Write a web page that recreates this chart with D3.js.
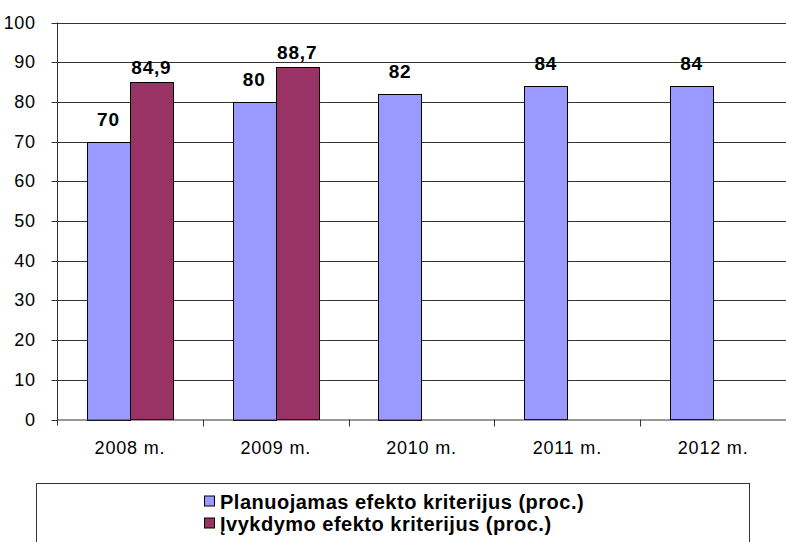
<!DOCTYPE html>
<html>
<head>
<meta charset="utf-8">
<script src="https://cdn.jsdelivr.net/npm/d3@7"></script>
<style>
  body { margin: 0; background: #fff; }
  text { font-family: "Liberation Sans", Arial, sans-serif; }
</style>
</head>
<body>
<div id="chart"></div>
<script>
// chart data
var categories = ["2008 m.", "2009 m.", "2010 m.", "2011 m.", "2012 m."];
var planned = [70, 80, 82, 84, 84];
var actual = [84.9, 88.7, null, null, null];
var seriesNames = ["Planuojamas efekto kriterijus (proc.)", "Įvykdymo efekto kriterijus (proc.)"];
var seriesColors = ["#9999ff", "#993366"];
var yTicks = [0, 10, 20, 30, 40, 50, 60, 70, 80, 90, 100];

// plot area (note: "top" is a reserved window property, so use other names)
var width = 786, height = 542;
var plotLeft = 57, plotRight = 786, plotTop = 22.5, plotBottom = 419.5;

var svg = d3.select("#chart").append("svg")
    .attr("width", width)
    .attr("height", height);

var x = d3.scaleBand()
    .domain(categories)
    .range([plotLeft, plotRight]);
var x1 = d3.scaleBand()
    .domain([0, 1])
    .range([x.bandwidth() * 0.205, x.bandwidth() * 0.795]);
var y = d3.scaleLinear()
    .domain([0, 100])
    .range([plotBottom, plotTop]);

// gridlines
svg.append("g").selectAll("line")
    .data(yTicks.filter(function (d) { return d > 0; }))
    .enter().append("line")
    .attr("x1", plotLeft).attr("x2", plotRight)
    .attr("y1", function (d) { return Math.round(y(d)) + 0.5; })
    .attr("y2", function (d) { return Math.round(y(d)) + 0.5; })
    .attr("stroke", "#333")
    .attr("stroke-width", 1);

// build a flat list of bars
var bars = [];
categories.forEach(function (c, i) {
    if (planned[i] != null) bars.push({ cat: c, s: 0, v: planned[i] });
    if (actual[i] != null) bars.push({ cat: c, s: 1, v: actual[i] });
});

svg.append("g").selectAll("rect")
    .data(bars)
    .enter().append("rect")
    .attr("x", function (d) { return Math.round(x(d.cat) + x1(d.s)) + 0.5; })
    .attr("width", x1.bandwidth())
    .attr("y", function (d) { return Math.round(y(d.v)) + 0.5; })
    .attr("height", function (d) { return Math.round(plotBottom - y(d.v)); })
    .attr("fill", function (d) { return seriesColors[d.s]; })
    .attr("stroke", "#000")
    .attr("stroke-width", 1);

// value labels
var fmt = function (v) { return String(v).replace(".", ","); };
svg.append("g").selectAll("text")
    .data(bars)
    .enter().append("text")
    .attr("x", function (d) { return x(d.cat) + x1(d.s) + x1.bandwidth() / 2; })
    .attr("y", function (d) { return y(d.v) - (d.s === 0 ? 16 : 8); })
    .attr("text-anchor", "middle")
    .attr("font-size", 19)
    .attr("font-weight", "bold")
    .attr("letter-spacing", 0.8)
    .text(function (d) { return fmt(d.v); });

// y axis
var yAxis = svg.append("g")
    .attr("transform", "translate(" + (plotLeft + 0.5) + ",0)")
    .call(d3.axisLeft(y).tickValues(yTicks).tickSize(6).tickPadding(16));
yAxis.select(".domain").attr("d", "M0," + plotTop + "V" + (plotBottom + 6));
yAxis.selectAll(".tick").attr("transform", function (d) { return "translate(0," + (Math.round(y(d)) + 0.5) + ")"; });
yAxis.selectAll("text").attr("font-size", 18).attr("fill", "#000")
    .attr("letter-spacing", 0.6)
    .attr("font-family", "Liberation Sans, Arial, sans-serif");
yAxis.selectAll("path, line").attr("stroke", "#333");

// x axis
var xAxis = svg.append("g")
    .attr("transform", "translate(0," + (plotBottom + 0.5) + ")")
    .call(d3.axisBottom(x).tickSize(0).tickPadding(21));
xAxis.select(".domain").attr("d", "M" + plotLeft + ",0H" + plotRight).attr("stroke", "#333");
xAxis.selectAll("text").attr("font-size", 18).attr("fill", "#000")
    .attr("letter-spacing", 0.8)
    .attr("font-family", "Liberation Sans, Arial, sans-serif");
// category separator ticks
svg.append("g").selectAll("line")
    .data(categories.slice(1))
    .enter().append("line")
    .attr("x1", function (d) { return Math.round(x(d)) + 0.5; })
    .attr("x2", function (d) { return Math.round(x(d)) + 0.5; })
    .attr("y1", plotBottom).attr("y2", plotBottom + 7)
    .attr("stroke", "#333");

// legend
var legend = svg.append("g");
legend.append("rect")
    .attr("x", 36.5).attr("y", 483.5)
    .attr("width", 713).attr("height", 80)
    .attr("fill", "#fff").attr("stroke", "#333");
var items = legend.selectAll("g.item")
    .data(seriesNames)
    .enter().append("g")
    .attr("class", "item")
    .attr("transform", function (d, i) { return "translate(204," + (501.5 + i * 22) + ")"; });
items.append("rect")
    .attr("x", 0.5).attr("y", -5.5)
    .attr("width", 10).attr("height", 10)
    .attr("fill", function (d, i) { return seriesColors[i]; })
    .attr("stroke", "#000");
items.append("text")
    .attr("x", 16).attr("y", 7)
    .attr("font-size", 20)
    .attr("font-weight", "bold")
    .attr("letter-spacing", 0.5)
    .text(function (d) { return d; });
</script>
</body>
</html>
